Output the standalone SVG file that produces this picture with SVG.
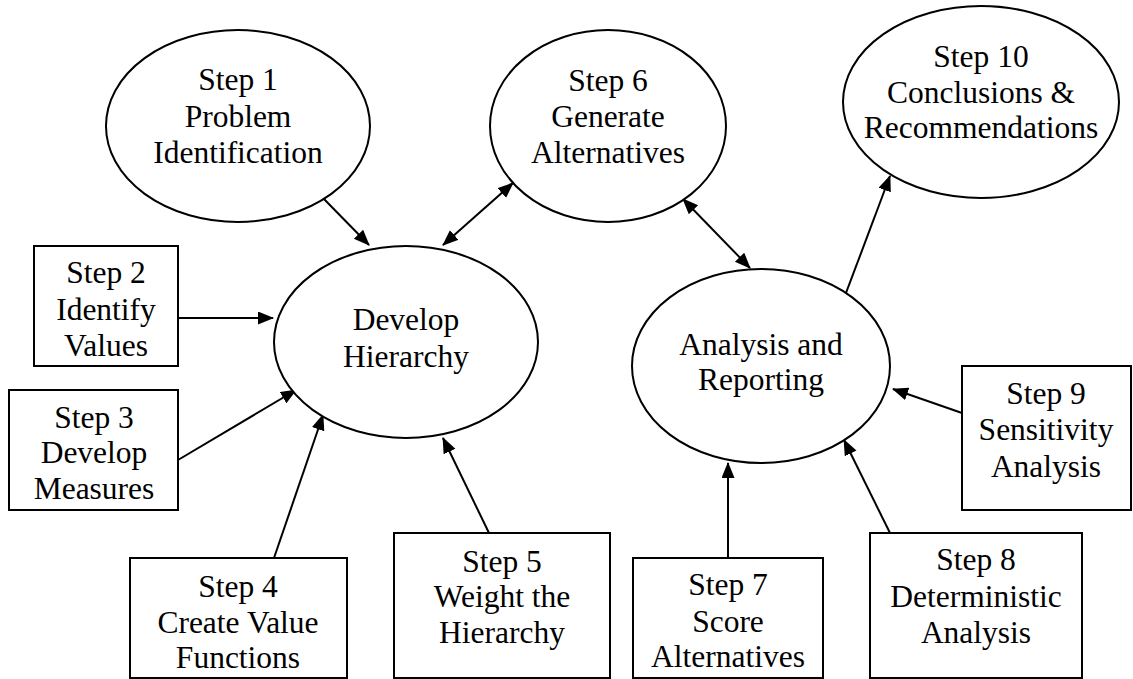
<svg xmlns="http://www.w3.org/2000/svg" width="1133" height="679" viewBox="0 0 1133 679">
<style>
.n{fill:#fff;stroke:#000;stroke-width:2}
.t{font-family:"Liberation Serif","Times New Roman",serif;font-size:31.5px;fill:#000;text-anchor:middle}
.c{stroke:#000;stroke-width:2;fill:none;marker-end:url(#ah)}
.b{marker-start:url(#ah)}
</style>
<defs>
<marker id="ah" markerUnits="userSpaceOnUse" markerWidth="18" markerHeight="14" refX="15" refY="6.5" orient="auto-start-reverse">
<path d="M0,0 L16,6.5 L0,13 z" fill="#000"/>
</marker>
</defs>
<rect width="1133" height="679" fill="#fff"/>
<g id="connectors">
<line class="c" x1="323" y1="198" x2="369" y2="245"/>
<line class="c b" x1="443" y1="245" x2="513" y2="183"/>
<line class="c" x1="178" y1="318" x2="273" y2="318"/>
<line class="c" x1="178" y1="460" x2="296" y2="390"/>
<line class="c" x1="274" y1="558" x2="323" y2="415"/>
<line class="c" x1="489" y1="533" x2="443" y2="438"/>
<line class="c b" x1="683" y1="199" x2="750" y2="268"/>
<line class="c" x1="846" y1="293" x2="890" y2="176"/>
<line class="c" x1="728" y1="558" x2="728" y2="463"/>
<line class="c" x1="890" y1="533" x2="844" y2="440"/>
<line class="c" x1="962" y1="413" x2="893" y2="389"/>
</g>
<g id="step1">
<ellipse class="n" cx="238" cy="126" rx="132" ry="96"/>
<text class="t" x="238" y="90">Step 1<tspan x="238" y="127">Problem</tspan><tspan x="238" y="163">Identification</tspan></text>
</g>
<g id="step6">
<ellipse class="n" cx="608" cy="126" rx="118" ry="96"/>
<text class="t" x="608" y="91">Step 6<tspan x="608" y="127">Generate</tspan><tspan x="608" y="163">Alternatives</tspan></text>
</g>
<g id="step10">
<ellipse class="n" cx="981" cy="102" rx="138" ry="96"/>
<text class="t" x="981" y="67">Step 10<tspan x="981" y="103">Conclusions &amp;</tspan><tspan x="981" y="138">Recommendations</tspan></text>
</g>
<g id="develop">
<ellipse class="n" cx="406" cy="342" rx="132" ry="96"/>
<text class="t" x="406" y="330">Develop<tspan x="406" y="367">Hierarchy</tspan></text>
</g>
<g id="analysis">
<ellipse class="n" cx="761" cy="366" rx="129" ry="97"/>
<text class="t" x="761" y="355">Analysis and<tspan x="761" y="390">Reporting</tspan></text>
</g>
<g id="step2">
<rect class="n" x="34" y="246" width="144" height="120"/>
<text class="t" x="106" y="283">Step 2<tspan x="106" y="320">Identify</tspan><tspan x="106" y="356">Values</tspan></text>
</g>
<g id="step3">
<rect class="n" x="9" y="390" width="169" height="120"/>
<text class="t" x="94" y="428">Step 3<tspan x="94" y="463">Develop</tspan><tspan x="94" y="499">Measures</tspan></text>
</g>
<g id="step4">
<rect class="n" x="130" y="558" width="217" height="120"/>
<text class="t" x="238" y="597">Step 4<tspan x="238" y="633">Create Value</tspan><tspan x="238" y="668">Functions</tspan></text>
</g>
<g id="step5">
<rect class="n" x="394" y="533" width="216" height="145"/>
<text class="t" x="502" y="572">Step 5<tspan x="502" y="607">Weight the</tspan><tspan x="502" y="643">Hierarchy</tspan></text>
</g>
<g id="step7">
<rect class="n" x="633" y="558" width="190" height="120"/>
<text class="t" x="728" y="595">Step 7<tspan x="728" y="632">Score</tspan><tspan x="728" y="667">Alternatives</tspan></text>
</g>
<g id="step8">
<rect class="n" x="870" y="533" width="212" height="145"/>
<text class="t" x="976" y="570">Step 8<tspan x="976" y="607">Deterministic</tspan><tspan x="976" y="643">Analysis</tspan></text>
</g>
<g id="step9">
<rect class="n" x="962" y="366" width="169" height="144"/>
<text class="t" x="1046" y="404">Step 9<tspan x="1046" y="440">Sensitivity</tspan><tspan x="1046" y="477">Analysis</tspan></text>
</g>
</svg>
